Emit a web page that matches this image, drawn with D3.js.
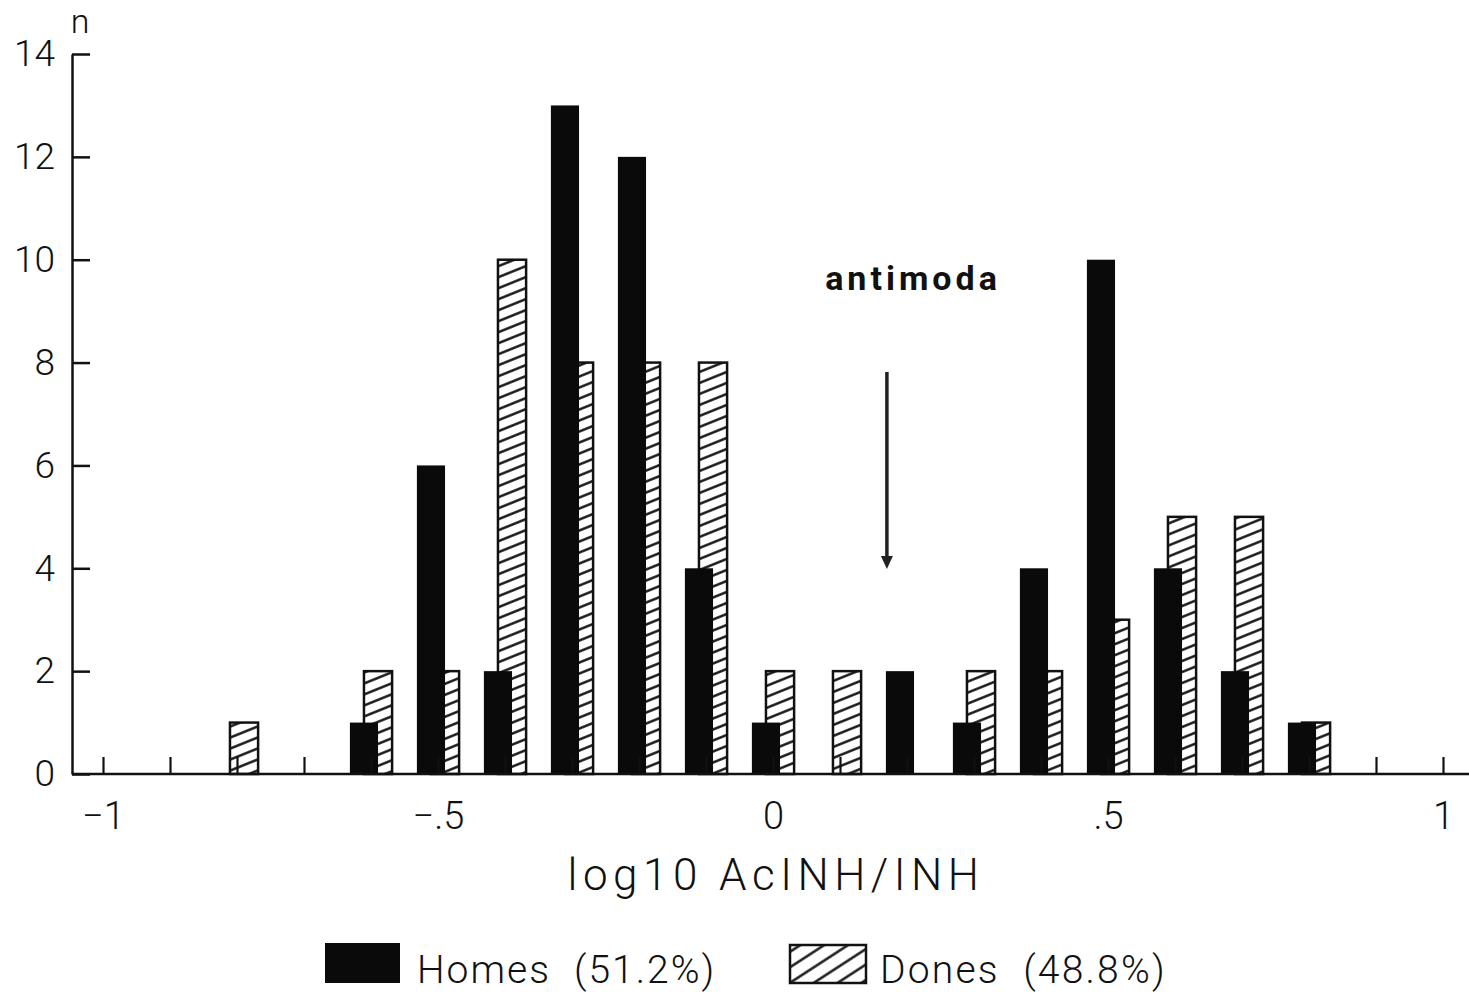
<!DOCTYPE html>
<html>
<head>
<meta charset="utf-8">
<script src="https://cdn.jsdelivr.net/npm/d3@7"></script>
<style>
  html, body { margin: 0; padding: 0; background: #fff; }
  svg { display: block; }
  text { font-family: Roboto, "Liberation Sans", sans-serif; fill: #111; }
</style>
</head>
<body>
<script>
// Bin centres of log10(AcINH/INH)
const binCenters = [-0.8, -0.7, -0.6, -0.5, -0.4, -0.3, -0.2, -0.1, 0, 0.1, 0.2, 0.3, 0.4, 0.5, 0.6, 0.7, 0.8];
// Counts per bin
const homesCounts = [0, 0, 1, 6, 2, 13, 12, 4, 1, 0, 2, 1, 4, 10, 4, 2, 1];
const donesCounts = [1, 0, 2, 2, 10, 8, 8, 8, 2, 2, 0, 2, 2, 3, 5, 5, 1];
// Axis ticks
const xMinorTicks = d3.range(-10, 11).map(i => i / 10);
const xLabelTicks = [-1, -0.5, 0, 0.5, 1];
const xTickLabels = ["\u22121", "\u2212.5", "0", ".5", "1"];
const yTicks = [0, 2, 4, 6, 8, 10, 12, 14];
const seriesNames = ["Homes", "Dones"];
const seriesShares = ["(51.2%)", "(48.8%)"];
const antimodaValue = 0.17;

const W = 1469, H = 995;
const svg = d3.select("body").append("svg").attr("width", W).attr("height", H);

const x = d3.scaleLinear().domain([-1, 1]).range([103, 1443]);
const y = d3.scaleLinear().domain([0, 14]).range([774, 54]);
const axisX = 72;

// Hatch patterns
const defs = svg.append("defs");
defs.append("pattern")
  .attr("id", "hatch")
  .attr("patternUnits", "userSpaceOnUse")
  .attr("width", 12).attr("height", 10.2)
  .attr("patternTransform", "rotate(-22)")
  .append("line")
  .attr("x1", 0).attr("x2", 12).attr("y1", 5.1).attr("y2", 5.1)
  .attr("stroke", "#111").attr("stroke-width", 2.4);
defs.append("pattern")
  .attr("id", "hatchLegend")
  .attr("patternUnits", "userSpaceOnUse")
  .attr("width", 14).attr("height", 13)
  .attr("patternTransform", "rotate(-33)")
  .append("line")
  .attr("x1", 0).attr("x2", 14).attr("y1", 6.5).attr("y2", 6.5)
  .attr("stroke", "#111").attr("stroke-width", 2.4);

const barW = x(0.042) - x(0);
const bins = binCenters.map((c, i) => ({ c, homes: homesCounts[i], dones: donesCounts[i] }));

// Dones bars (behind)
svg.append("g").selectAll("rect")
  .data(bins.filter(d => d.dones > 0))
  .join("rect")
  .attr("x", d => x(d.c) - 0.25 * barW)
  .attr("y", d => y(d.dones))
  .attr("width", barW)
  .attr("height", d => y(0) - y(d.dones))
  .attr("fill", "url(#hatch)")
  .attr("stroke", "#111")
  .attr("stroke-width", 2.5);

// Homes bars (front)
svg.append("g").selectAll("rect")
  .data(bins.filter(d => d.homes > 0))
  .join("rect")
  .attr("x", d => x(d.c) - 0.75 * barW)
  .attr("y", d => y(d.homes))
  .attr("width", barW)
  .attr("height", d => y(0) - y(d.homes))
  .attr("fill", "#0a0a0a");

// X axis: baseline, minor ticks every 0.1, labels at half units
svg.append("line")
  .attr("x1", axisX).attr("x2", W)
  .attr("y1", y(0)).attr("y2", y(0))
  .attr("stroke", "#111").attr("stroke-width", 2.5);

const xAxis = svg.append("g")
  .attr("transform", `translate(0,${y(0)})`)
  .call(d3.axisBottom(x).tickValues(xMinorTicks).tickSizeInner(-17).tickSizeOuter(0).tickFormat(""));
xAxis.select(".domain").remove();
xAxis.selectAll(".tick line").attr("stroke", "#111").attr("stroke-width", 2.2);

const xLab = svg.append("g")
  .attr("transform", `translate(0,${y(0)})`)
  .call(d3.axisBottom(x).tickValues(xLabelTicks).tickSize(0).tickPadding(28)
    .tickFormat((d, i) => xTickLabels[i]));
xLab.select(".domain").remove();
xLab.selectAll("text")
  .attr("font-size", 38).attr("font-weight", 300)
  .attr("font-family", "Roboto, 'Liberation Sans', sans-serif")
  .attr("fill", "#111");

// Y axis with inward ticks
const yAxis = svg.append("g")
  .attr("transform", `translate(${axisX},0)`)
  .call(d3.axisLeft(y).tickValues(yTicks).tickSizeInner(-18).tickSizeOuter(0).tickPadding(17));
yAxis.select(".domain").attr("stroke", "#111").attr("stroke-width", 2.5);
yAxis.selectAll(".tick line").attr("stroke", "#111").attr("stroke-width", 2.5);
yAxis.selectAll("text")
  .attr("font-size", 37).attr("font-weight", 300)
  .attr("font-family", "Roboto, 'Liberation Sans', sans-serif")
  .attr("fill", "#111");

svg.append("text")
  .attr("x", axisX + 8).attr("y", 33)
  .attr("text-anchor", "middle")
  .attr("font-size", 34).attr("font-weight", 300)
  .text("n");

// Axis title
svg.append("text")
  .attr("x", x(0) + 3).attr("y", 890)
  .attr("text-anchor", "middle")
  .attr("font-size", 44).attr("font-weight", 300)
  .attr("letter-spacing", 5.5)
  .text("log10 AcINH/INH");

// Antimode annotation
svg.append("text")
  .attr("x", 913).attr("y", 290)
  .attr("text-anchor", "middle")
  .attr("font-family", "'Liberation Sans', Arial, sans-serif")
  .attr("font-size", 34).attr("font-weight", "bold")
  .attr("letter-spacing", 4)
  .text("antimoda");

const ax = x(antimodaValue);
svg.append("line")
  .attr("x1", ax).attr("x2", ax)
  .attr("y1", 372).attr("y2", 558)
  .attr("stroke", "#222").attr("stroke-width", 3.5);
svg.append("path")
  .attr("d", `M${ax - 6},556 L${ax + 6},556 L${ax},569 Z`)
  .attr("fill", "#222");

// Legend
const legend = svg.append("g");
legend.append("rect")
  .attr("x", 325).attr("y", 943).attr("width", 75).attr("height", 40)
  .attr("fill", "#0a0a0a");
legend.append("text")
  .attr("x", 417).attr("y", 983)
  .attr("font-size", 39).attr("font-weight", 300)
  .attr("letter-spacing", 2)
  .style("white-space", "pre")
  .text(seriesNames[0] + "  " + seriesShares[0]);
legend.append("rect")
  .attr("x", 790).attr("y", 945).attr("width", 76).attr("height", 38)
  .attr("fill", "url(#hatchLegend)")
  .attr("stroke", "#111").attr("stroke-width", 2.5);
legend.append("text")
  .attr("x", 880).attr("y", 983)
  .attr("font-size", 39).attr("font-weight", 300)
  .attr("letter-spacing", 2.2)
  .style("white-space", "pre")
  .text(seriesNames[1] + "  " + seriesShares[1]);
</script>
</body>
</html>
